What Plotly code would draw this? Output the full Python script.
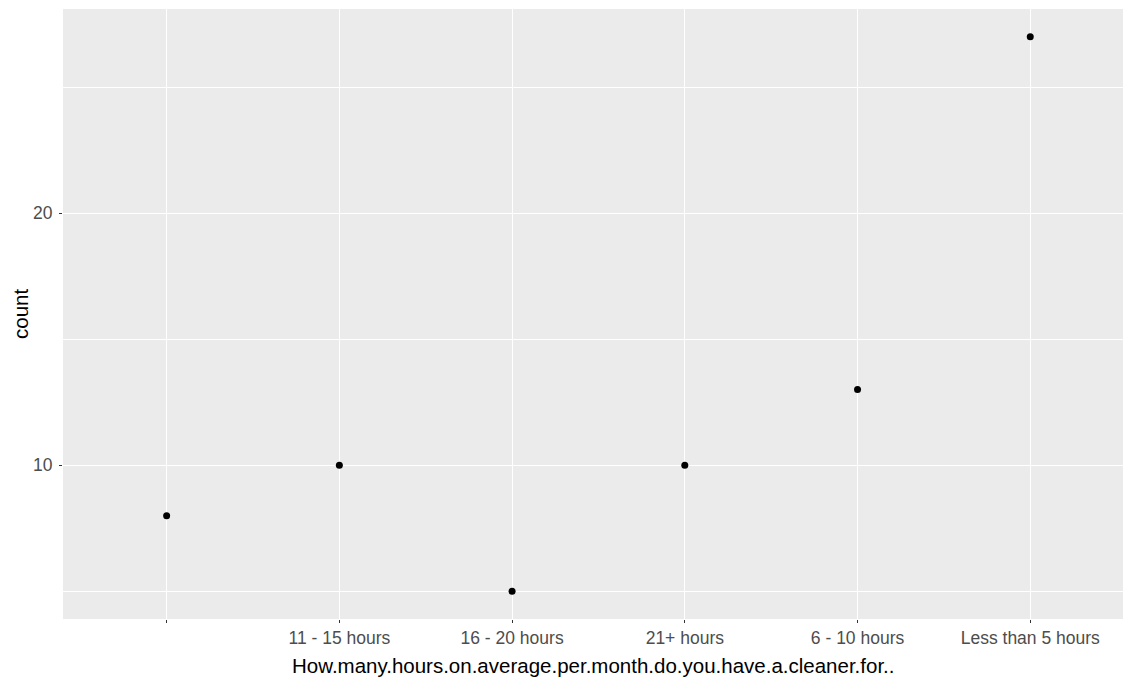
import plotly.graph_objects as go

categories = [" ", "11 - 15 hours", "16 - 20 hours", "21+ hours", "6 - 10 hours", "Less than 5 hours"]
counts = [8, 10, 5, 10, 13, 27]
y_ticks = [10, 20]
y_minor = [5, 15, 25]

fig = go.Figure()
fig.add_trace(go.Scatter(
    x=categories, y=counts, mode="markers",
    marker=dict(color="black", size=7, line=dict(width=0)),
    showlegend=False, hoverinfo="x+y",
))

font_family = "Liberation Sans, Arial, sans-serif"
fig.update_layout(
    width=1123, height=679,
    margin=dict(l=63, r=0, t=9, b=60),
    paper_bgcolor="white",
    plot_bgcolor="#EBEBEB",
    font=dict(family=font_family),
    xaxis=dict(
        type="category",
        categoryorder="array", categoryarray=categories,
        range=[-0.6, 5.537],
        showgrid=True, gridcolor="white", gridwidth=1.4,
        zeroline=False, showline=False,
        ticks="outside", ticklen=3, tickwidth=1, tickcolor="#333333",
        tickfont=dict(size=17.5, color="#4D4D4D"),
        fixedrange=True,
    ),
    yaxis=dict(
        range=[3.9, 28.1],
        tickvals=y_ticks,
        showgrid=True, gridcolor="white", gridwidth=1.4,
        minor=dict(tickvals=y_minor, showgrid=True, gridcolor="white", gridwidth=0.7, ticks=""),
        zeroline=False, showline=False,
        ticks="outside", ticklen=3, tickwidth=1, tickcolor="#333333",
        tickfont=dict(size=17.5, color="#4D4D4D"),
        ticklabelstandoff=3,
        fixedrange=True,
    ),
    annotations=[
        dict(
            text="How.many.hours.on.average.per.month.do.you.have.a.cleaner.for..",
            xref="paper", yref="paper", x=0.5, y=0, yshift=-33,
            xanchor="center", yanchor="top", showarrow=False,
            font=dict(size=20.5, color="black"),
        ),
        dict(
            text="count",
            xref="paper", yref="paper", x=0, y=0.5, xshift=-43,
            xanchor="center", yanchor="middle", textangle=-90, showarrow=False,
            font=dict(size=20.5, color="black"),
        ),
    ],
)

fig.write_html(
    "out.html",
    config={"displayModeBar": False},
    post_script="document.body.style.margin='0';document.body.style.overflow='hidden';",
)
